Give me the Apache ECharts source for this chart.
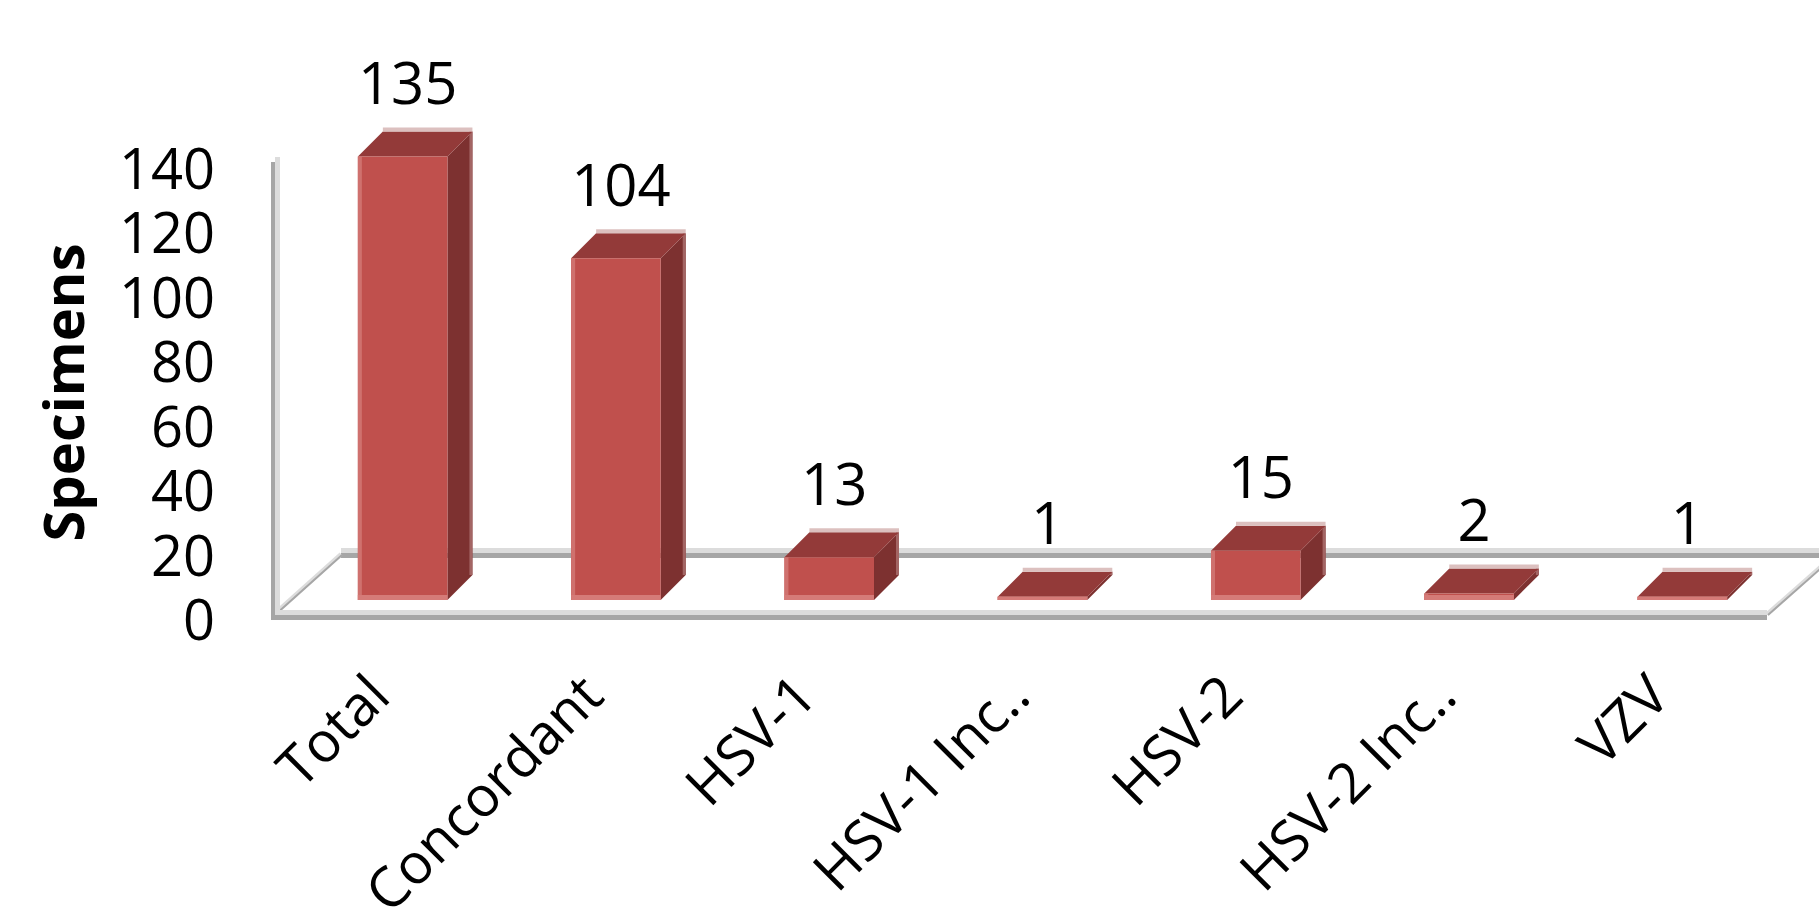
<!DOCTYPE html>
<html>
<head>
<meta charset="utf-8">
<title>Specimens</title>
<script src="https://cdn.jsdelivr.net/npm/echarts@6/dist/echarts.min.js"></script>
<style>
  html, body { margin: 0; padding: 0; background: #fff; }
  #bar_chart { width: 1819px; height: 915px; }
</style>
</head>
<body>
<div id="bar_chart"></div>
<script>
// data
const categories = ['Total', 'Concordant', 'HSV-1', 'HSV-1 Inc..', 'HSV-2', 'HSV-2 Inc..', 'VZV']
const specimens = [135, 104, 13, 1, 15, 2, 1]
const yTicks = [0, 20, 40, 60, 80, 100, 120, 140]

const FONT = '"Open Sans", "Noto Sans", sans-serif'
const depth = 25 // 3d offset of the bar back face

const myChart = echarts.init(document.getElementById('bar_chart'), null, { renderer: 'svg' })

// floor and left wall, built from the grid rect
const renderFrame = (params, api) => {
  const cs = params.coordSys
  const y0 = api.coord([0, 0])[1]
  const xl = cs.x - 23
  const xr = cs.x + cs.width - 22
  const dark = '#a6a6a6'
  const light = '#dcdcdc'
  const floorDx = 68
  const floorDy = 60
  return {
    type: 'group',
    children: [
      // back edge of floor
      { type: 'rect', shape: { x: xl + floorDx, y: y0 - floorDy - 10, width: 2000, height: 5 }, style: { fill: light } },
      { type: 'rect', shape: { x: xl + floorDx, y: y0 - floorDy - 5, width: 2000, height: 5 }, style: { fill: dark } },
      // side edges of floor
      { type: 'line', shape: { x1: xl + 1, y1: y0 - 4, x2: xl + floorDx, y2: y0 - floorDy - 4 }, style: { stroke: light, lineWidth: 4 } },
      { type: 'line', shape: { x1: xl + 2, y1: y0 - 3, x2: xl + floorDx + 1, y2: y0 - floorDy - 3 }, style: { stroke: dark, lineWidth: 2 } },
      { type: 'line', shape: { x1: xr, y1: y0 - 4, x2: xr + floorDx, y2: y0 - floorDy - 4 }, style: { stroke: light, lineWidth: 4 } },
      { type: 'line', shape: { x1: xr + 1, y1: y0 - 3, x2: xr + floorDx + 1, y2: y0 - floorDy - 3 }, style: { stroke: dark, lineWidth: 2 } },
      // front edge of floor
      { type: 'rect', shape: { x: xl, y: y0 - 8, width: xr - xl, height: 5 }, style: { fill: light } },
      { type: 'rect', shape: { x: xl, y: y0 - 3, width: xr - xl, height: 5 }, style: { fill: dark } },
      // left wall
      { type: 'rect', shape: { x: xl + 2, y: cs.y - 10, width: 5, height: y0 - cs.y + 2 }, style: { fill: light } },
      { type: 'rect', shape: { x: xl - 2, y: cs.y - 5, width: 4, height: y0 - cs.y + 7 }, style: { fill: dark } }
    ]
  }
}

// one 3d-looking column: front, top and side faces plus the value label
const renderBar = (params, api) => {
  const i = api.value(0)
  const v = api.value(1)
  const base = api.coord([i, 0])
  const top = api.coord([i, v])
  const bw = api.size([1, 0])[0] * 0.42
  const x0 = base[0] - bw / 2
  const x1 = x0 + bw
  const yb = base[1] - 18
  const yt = yb - (base[1] - top[1]) * 1.02
  const h = yb - yt
  return {
    type: 'group',
    children: [
      // side face
      {
        type: 'polygon',
        shape: { points: [[x1, yt], [x1 + depth, yt - depth], [x1 + depth, yb - depth], [x1, yb]] },
        style: { fill: '#7d3130' }
      },
      { type: 'rect', shape: { x: x1 + depth - 3, y: yt - depth, width: 3, height: h }, style: { fill: '#a36564' } },
      // top face, with its light back edge
      {
        type: 'polygon',
        shape: { points: [[x0, yt], [x0 + depth, yt - depth], [x1 + depth, yt - depth], [x1, yt]] },
        style: { fill: '#933a39' }
      },
      { type: 'rect', shape: { x: x0 + depth, y: yt - depth - 4, width: bw, height: 4 }, style: { fill: '#dcc0bf' } },
      // front face
      { type: 'rect', shape: { x: x0, y: yt, width: bw, height: h }, style: { fill: '#c0504d' } },
      { type: 'rect', shape: { x: x0, y: yt, width: 4, height: h }, style: { fill: '#cf716e' } },
      { type: 'rect', shape: { x: x0, y: yb - Math.min(5, h), width: bw, height: Math.min(5, h) }, style: { fill: '#d57b78' } },
      {
        type: 'text',
        x: base[0] + 5,
        y: yt - 75,
        style: {
          text: String(v),
          font: '58px ' + FONT,
          fill: '#000',
          align: 'center',
          verticalAlign: 'middle'
        }
      }
    ]
  }
}

const myOption = {
  backgroundColor: '#fff',
  animation: false,
  grid: {
    left: 296,
    right: 30,
    top: 167,
    bottom: 297,
    outerBoundsMode: 'none'
  },
  xAxis: {
    type: 'category',
    data: categories,
    axisLine: { show: false },
    axisTick: { show: false },
    axisLabel: {
      interval: 0,
      rotate: 45,
      margin: 40,
      padding: [0, 36, 0, 0],
      color: '#000',
      fontSize: 56,
      lineHeight: 50,
      fontFamily: FONT
    }
  },
  yAxis: {
    type: 'value',
    min: yTicks[0],
    max: yTicks[yTicks.length - 1],
    interval: yTicks[1] - yTicks[0],
    name: 'Specimens',
    nameLocation: 'middle',
    nameRotate: 90,
    nameGap: 206,
    nameTextStyle: {
      color: '#000',
      fontSize: 56,
      fontWeight: 'bold',
      fontFamily: FONT
    },
    axisLine: { show: false },
    axisTick: { show: false },
    splitLine: { show: false },
    axisLabel: {
      margin: 81,
      color: '#000',
      fontSize: 56,
      lineHeight: 50,
      fontFamily: FONT
    }
  },
  series: [
    {
      name: 'frame',
      type: 'custom',
      z: 1,
      silent: true,
      data: [[0, 0]],
      renderItem: renderFrame
    },
    {
      name: 'Specimens',
      type: 'custom',
      z: 2,
      data: specimens.map((v, i) => [i, v]),
      encode: { x: 0, y: 1 },
      renderItem: renderBar
    }
  ]
}
myChart.setOption(myOption)
</script>
</body>
</html>
